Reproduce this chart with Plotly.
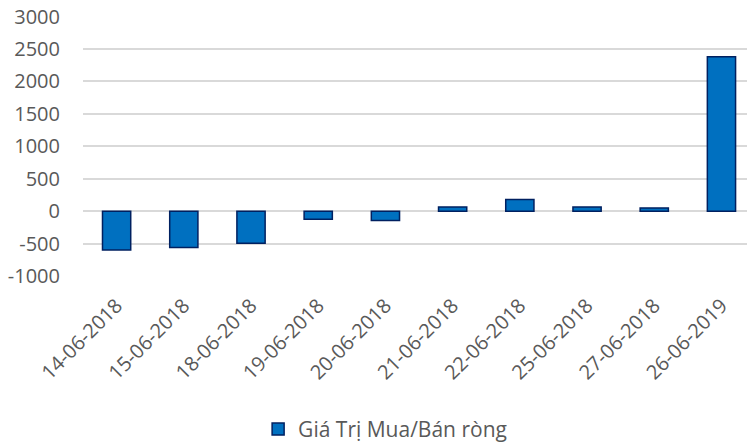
import plotly.graph_objects as go

categories = ["14-06-2018", "15-06-2018", "18-06-2018", "19-06-2018", "20-06-2018",
              "21-06-2018", "22-06-2018", "25-06-2018", "27-06-2018", "26-06-2019"]
values = [-600, -560, -495, -125, -145, 65, 180, 65, 50, 2380]
series_name = "Giá Trị Mua/Bán ròng"
y_ticks = [-1000, -500, 0, 500, 1000, 1500, 2000, 2500, 3000]

fig = go.Figure()
fig.add_trace(go.Bar(
    x=categories, y=values, name=series_name,
    marker=dict(color="#0070C0", line=dict(color="#002060", width=1.5)),
))

font_family = "Open Sans, Liberation Sans, sans-serif"
fs = 20
fig.update_layout(
    width=747, height=445,
    margin=dict(l=83, r=0, t=16, b=169, autoexpand=False),
    paper_bgcolor="white", plot_bgcolor="white",
    font=dict(family=font_family, size=fs, color="#595959"),
    bargap=0.58,
    showlegend=True,
    legend=dict(orientation="h", x=0.455, xanchor="center", y=-0.59, yanchor="middle",
                itemwidth=30, font=dict(size=21, color="#595959")),
    xaxis=dict(type="category", range=[-0.5, 9.38], tickangle=-45, showgrid=False,
               showline=False, ticks="", automargin=False, ticklabelstandoff=13,
               tickfont=dict(size=fs, color="#595959")),
    yaxis=dict(range=[-1000, 3010], tickvals=y_ticks, ticktext=[str(v) for v in y_ticks],
               showgrid=True, gridcolor="#D9D9D9", gridwidth=1.6,
               zeroline=True, zerolinecolor="#D9D9D9", zerolinewidth=1.6,
               showline=False, ticks="", ticklabelstandoff=22, automargin=False,
               ticklabeloverflow="allow",
               tickfont=dict(size=fs, color="#595959")),
)

fig.write_html("out.html",
               config={"displayModeBar": False},
               post_script="document.body.style.margin='0';document.body.style.overflow='hidden';")
